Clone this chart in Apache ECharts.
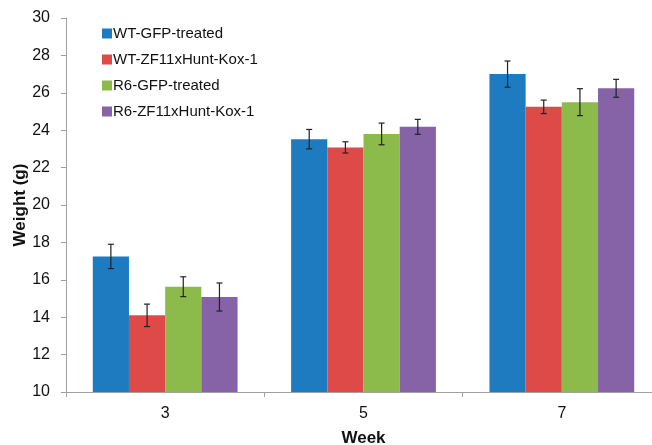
<!DOCTYPE html>
<html>
<head>
<meta charset="utf-8">
<script src="https://cdn.jsdelivr.net/npm/echarts@6/dist/echarts.min.js"></script>
<style>html,body{margin:0;padding:0;background:#fff;}#c{width:652px;height:445px;}</style>
</head>
<body>
<div id="c"></div>
<script>
var weeks = ['3', '5', '7'];
var seriesNames = ['WT-GFP-treated', 'WT-ZF11xHunt-Kox-1', 'R6-GFP-treated', 'R6-ZF11xHunt-Kox-1'];
var wtGfp = [17.25, 23.52, 27.0];
var wtZf = [14.1, 23.08, 25.25];
var r6Gfp = [15.63, 23.8, 25.5];
var r6Zf = [15.08, 24.18, 26.24];
var wtGfpErr = [0.65, 0.52, 0.7];
var wtZfErr = [0.6, 0.3, 0.36];
var r6GfpErr = [0.53, 0.58, 0.72];
var r6ZfErr = [0.75, 0.4, 0.48];
var colors = ['#1f7bc0', '#dd4a48', '#8dbb4b', '#8662a6'];

var means = [wtGfp, wtZf, r6Gfp, r6Zf];
var errs = [wtGfpErr, wtZfErr, r6GfpErr, r6ZfErr];
var GAP = 0.27;

var errData = [];
for (var s = 0; s < 4; s++) {
  for (var c = 0; c < weeks.length; c++) {
    errData.push([c, s, means[s][c] - errs[s][c], means[s][c] + errs[s][c]]);
  }
}

var series = seriesNames.map(function (n, i) {
  return {
    name: n, type: 'bar', data: means[i],
    barGap: '0%', barCategoryGap: (GAP * 100) + '%',
    itemStyle: { color: colors[i] },
    emphasis: { disabled: true }
  };
});
series.push({
  type: 'custom',
  data: errData,
  z: 10,
  silent: true,
  encode: { x: 0, y: [2, 3] },
  renderItem: function (params, api) {
    var c = api.value(0), s = api.value(1);
    var catW = api.size([1, 0])[0];
    var bw = catW * (1 - GAP) / 4;
    var center = api.coord([c, api.value(2)]);
    var x = center[0] + (s - 1.5) * bw;
    var lo = api.coord([c, api.value(2)])[1];
    var hi = api.coord([c, api.value(3)])[1];
    var cap = 3;
    var st = { stroke: '#222', lineWidth: 1.2 };
    return {
      type: 'group',
      children: [
        { type: 'line', shape: { x1: x, y1: lo, x2: x, y2: hi }, style: st },
        { type: 'line', shape: { x1: x - cap, y1: lo, x2: x + cap, y2: lo }, style: st },
        { type: 'line', shape: { x1: x - cap, y1: hi, x2: x + cap, y2: hi }, style: st }
      ]
    };
  }
});

var chart = echarts.init(document.getElementById('c'), null, { renderer: 'canvas' });
chart.setOption({
  animation: false,
  backgroundColor: '#fff',
  textStyle: { fontFamily: 'Liberation Sans, Arial, sans-serif' },
  grid: { left: 66, top: 18, right: -9, bottom: 53, containLabel: false, outerBoundsMode: 'none' },
  legend: {
    data: seriesNames,
    orient: 'vertical',
    left: 97, top: 21,
    itemWidth: 10, itemHeight: 10, itemGap: 11,
    icon: 'rect',
    textStyle: { fontSize: 15, color: '#111', padding: [0, 0, 0, -4] }
  },
  xAxis: {
    type: 'category', data: weeks,
    name: 'Week', nameLocation: 'middle', nameGap: 38, nameMoveOverlap: false,
    nameTextStyle: { fontSize: 17, fontWeight: 'bold', color: '#111' },
    axisLine: { lineStyle: { color: '#a0a0a0', width: 1 } },
    axisTick: { show: true, alignWithLabel: false, length: 5, lineStyle: { color: '#a0a0a0' } },
    axisLabel: { fontSize: 16, color: '#111', margin: 14 }
  },
  yAxis: {
    type: 'value', min: 10, max: 30, interval: 2,
    name: 'Weight (g)', nameLocation: 'middle', nameGap: 37, nameRotate: 90, nameMoveOverlap: false,
    nameTextStyle: { fontSize: 17, fontWeight: 'bold', color: '#111' },
    axisLine: { show: true, lineStyle: { color: '#a0a0a0', width: 1 } },
    axisTick: { show: true, length: 5, lineStyle: { color: '#a0a0a0' } },
    axisLabel: { fontSize: 16, color: '#111', margin: 16 },
    splitLine: { show: false }
  },
  series: series
});
</script>
</body>
</html>
